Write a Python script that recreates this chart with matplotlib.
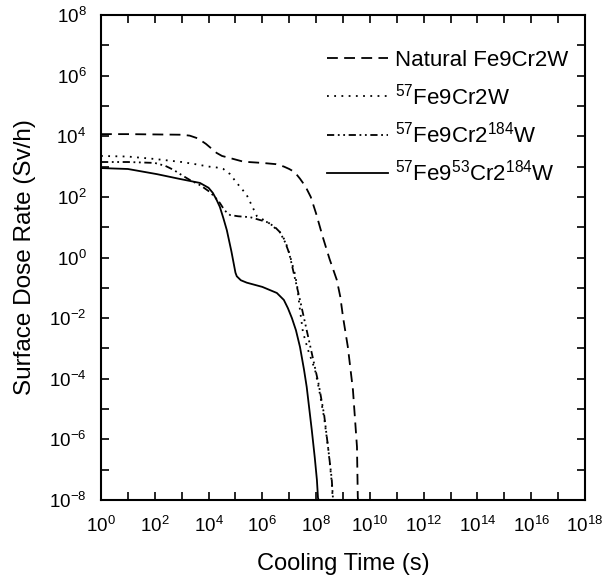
import numpy as np
import matplotlib
matplotlib.use("Agg")
import matplotlib.pyplot as plt

plt.rcParams['font.family'] = ['Liberation Sans', 'DejaVu Sans']
plt.rcParams['mathtext.fontset'] = 'custom'
plt.rcParams['mathtext.rm'] = 'Liberation Sans'
plt.rcParams['mathtext.it'] = 'Liberation Sans:italic'
plt.rcParams['mathtext.bf'] = 'Liberation Sans:bold'

# log10(time), log10(dose rate)
natural_lx = [0, 1, 2, 3, 3.3, 3.6, 3.9, 4.1, 4.3, 4.5, 4.8, 5.3, 6.0, 6.5, 6.8, 7.0, 7.2, 7.4, 7.6,
              7.8, 8.0, 8.25, 8.5, 8.77, 8.9, 9.0, 9.18, 9.37, 9.52, 9.55, 9.56]
natural_ly = [4.07, 4.07, 4.06, 4.05, 4.02, 3.93, 3.75, 3.6, 3.45, 3.35, 3.28, 3.16, 3.12, 3.08, 3.0,
              2.92, 2.82, 2.6, 2.35, 2.0, 1.45, 0.67, -0.05, -0.74, -1.3, -1.96, -2.95, -4.37, -6.25, -7.9, -8.0]

fe57_lx = [0, 1, 2, 3, 3.5, 4.0, 4.3, 4.55, 4.8, 5.05, 5.25, 5.42, 5.6, 5.8, 6.2, 6.65, 6.85, 7.0, 7.2,
           7.29, 7.4, 7.51, 7.7, 7.96, 8.1, 8.3, 8.45, 8.58, 8.62]
fe57_ly = [3.35, 3.33, 3.25, 3.15, 3.08, 3.0, 2.97, 2.92, 2.75, 2.46, 2.25, 2.06, 1.73, 1.36, 1.17, 0.84,
           0.55, 0.14, -0.5, -0.91, -1.73, -2.46, -3.05, -3.71, -4.3, -5.3, -6.3, -7.4, -8.0]

fe57w184_lx = [0, 1, 2, 2.4, 2.7, 3.0, 3.3, 3.7, 4.05, 4.25, 4.42, 4.6, 4.8, 5.1, 5.55, 6.17, 6.45,
               6.65, 6.85, 7.0, 7.2, 7.4, 7.55, 7.75, 7.95, 8.1, 8.3, 8.45, 8.58, 8.63]
fe57w184_ly = [3.15, 3.15, 3.12, 3.02, 2.89, 2.72, 2.56, 2.38, 2.16, 1.98, 1.8, 1.55, 1.4, 1.36, 1.33,
               1.17, 1.02, 0.84, 0.5, 0.14, -0.64, -1.4, -2.0, -2.8, -3.6, -4.2, -5.2, -6.3, -7.3, -8.0]

fe57cr53_lx = [0, 1, 2.08, 2.94, 3.68, 4.0, 4.16, 4.3, 4.42, 4.55, 4.68, 4.85, 5.0, 5.05, 5.2, 5.42,
               6.0, 6.54, 6.8, 6.95, 7.1, 7.25, 7.4, 7.55, 7.65, 7.84, 7.95, 8.03, 8.07, 8.1]
fe57cr53_ly = [2.95, 2.92, 2.75, 2.59, 2.46, 2.3, 2.13, 1.9, 1.67, 1.3, 0.9, 0.2, -0.5, -0.62, -0.75,
               -0.83, -0.97, -1.17, -1.4, -1.67, -2.0, -2.4, -2.95, -3.7, -4.27, -5.7, -6.6, -7.34, -7.94, -8.0]

labels = ['Natural Fe9Cr2W',
          r'$^{57}$Fe9Cr2W',
          r'$^{57}$Fe9Cr2$^{184}$W',
          r'$^{57}$Fe9$^{53}$Cr2$^{184}$W']

fig = plt.figure(figsize=(6.13, 5.87), dpi=100)
ax = fig.add_axes([101/613, 1 - 500/587, 484/613, 485/587])

lw = 1.3
ax.plot(10**np.array(natural_lx), 10**np.array(natural_ly), color='black', lw=lw,
        dashes=(6, 3.5), label=labels[0])
ax.plot(10**np.array(fe57_lx), 10**np.array(fe57_ly), color='black', lw=lw,
        dashes=(1, 3), label=labels[1])
ax.plot(10**np.array(fe57w184_lx), 10**np.array(fe57w184_ly), color='black', lw=lw,
        dashes=(4, 2, 1, 2, 1, 2), label=labels[2])
ax.plot(10**np.array(fe57cr53_lx), 10**np.array(fe57cr53_ly), color='black', lw=lw,
        label=labels[3])

ax.set_xscale('log')
ax.set_yscale('log')
ax.set_xlim(1, 1e18)
ax.set_ylim(1e-8, 1e8)

xt = [10.0**k for k in range(0, 19)]
ax.set_xticks(xt)
ax.set_xticklabels([r'$10^{%d}$' % k if k % 2 == 0 else '' for k in range(0, 19)])
yt = [10.0**k for k in range(-8, 9)]
ax.set_yticks(yt)
ax.set_yticklabels([r'$10^{%d}$' % k if k % 2 == 0 else '' for k in range(-8, 9)])
ax.minorticks_off()
ax.tick_params(which='major', direction='in', length=6, width=1.2,
               top=True, right=True, labelsize=13.5)
ax.tick_params(axis='x', pad=11.5)
ax.tick_params(axis='y', pad=10.5)

for s in ax.spines.values():
    s.set_linewidth(1.5)

ax.set_xlabel('Cooling Time (s)', fontsize=17, labelpad=12)
ax.set_ylabel('Surface Dose Rate (Sv/h)', fontsize=17.5, labelpad=9)

ax.legend(loc='upper right', bbox_to_anchor=(0.965, 0.928), frameon=False,
          borderpad=0, borderaxespad=0,
          fontsize=16, handlelength=2.75, handletextpad=0.32, labelspacing=0.56)

fig.savefig('out.png', dpi=100)
